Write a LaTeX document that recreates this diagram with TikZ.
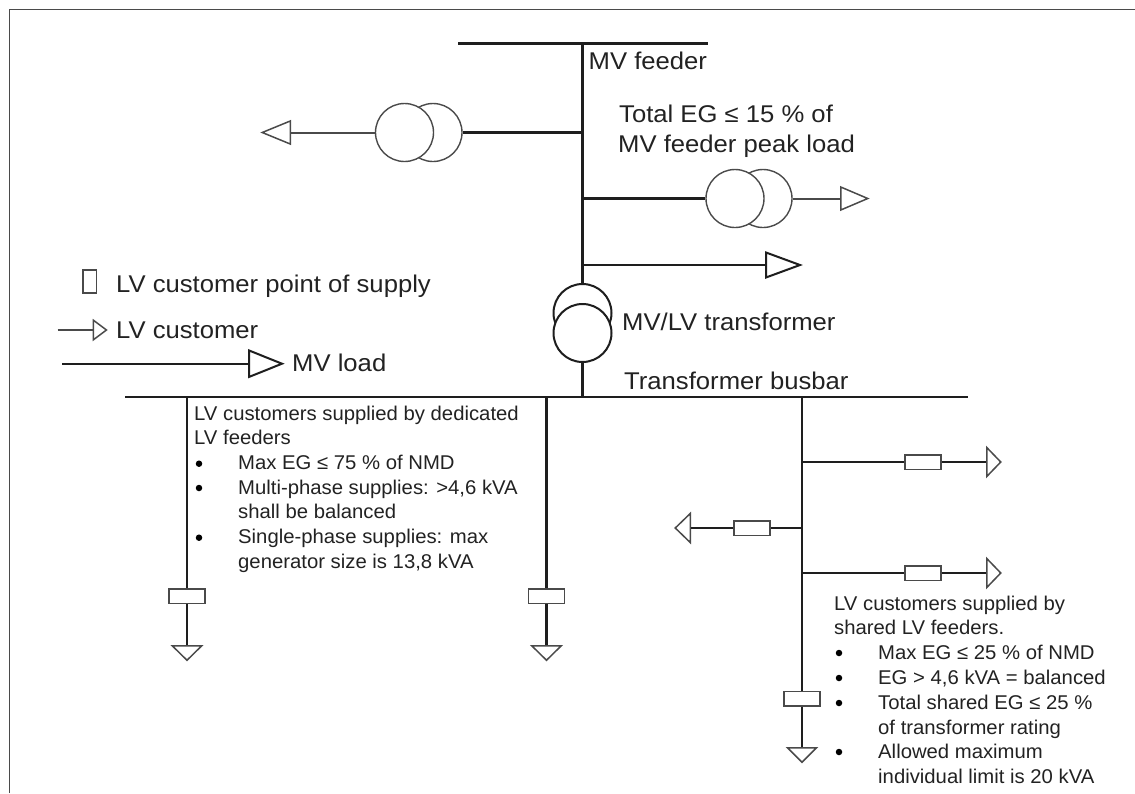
\documentclass[tikz,border=0pt]{standalone}
\usepackage{fontspec}
\setmainfont{Liberation Sans}
\newfontfamily\lgfam[FakeStretch=1.06]{Liberation Sans}
\newfontfamily\smfam[FakeStretch=1.02]{Liberation Sans}
\usetikzlibrary{shapes.geometric}
\definecolor{ink}{HTML}{1E1E1E}
\definecolor{soft}{HTML}{4A4A4A}
\definecolor{txt}{HTML}{222222}
\tikzset{
  lgtext/.style={anchor=base west,inner sep=0pt,text=txt,font=\lgfam\fontsize{24.2}{28}\selectfont},
  smtext/.style={anchor=base west,inner sep=0pt,text=txt,font=\smfam\fontsize{19.9}{24}\selectfont},
  bul/.style={circle,fill=black,inner sep=0pt,minimum size=6.5pt},
  wire/.style={draw=ink,line width=2.2pt},
  softwire/.style={draw=soft,line width=2pt},
  coil/.style={circle,draw=soft,line width=1.4pt,fill=white,inner sep=0pt,minimum size=58pt},
  mcoil/.style={circle,draw=ink,line width=2pt,fill=white,inner sep=0pt,minimum size=58pt},
  fuse/.style={rectangle,draw=soft,line width=1.5pt,fill=white,inner sep=0pt},
  hfuse/.style={fuse,minimum width=36pt,minimum height=14.5pt},
  tip/.style={isosceles triangle,isosceles triangle stretches,draw=soft,line width=1.5pt,fill=white,inner sep=0pt,anchor=lower side},
  tipbig/.style={tip,draw=ink,line width=2pt},
}
\begin{document}
\begin{tikzpicture}[x=1pt,y=-1pt]
\useasboundingbox (0,0) rectangle (1135,793);
% frame
\coordinate (fa) at (9.5,793); \coordinate (fb) at (9.5,9.5); \coordinate (fc) at (1135,9.5);
\draw[draw=soft,line width=1.1pt] (fa) -- (fb) -- (fc);
% buses
\coordinate (mvL) at (458,43); \coordinate (mvR) at (708,43); \coordinate (mvJ) at (582.5,43);
\draw[draw=ink,line width=3pt] (mvL) -- (mvR);
\coordinate (bbL) at (125,397); \coordinate (bbR) at (968,397);
\coordinate (bbM) at (582.5,397); \coordinate (bbA) at (187,397); \coordinate (bbB) at (546.5,397); \coordinate (bbC) at (802,397);
\draw[wire] (bbL) -- (bbR);
% MV junctions
\coordinate (j1) at (582.5,132.5); \coordinate (j2) at (582.5,198.5); \coordinate (j3) at (582.5,265);
% left transformer
\node[coil] (t1b) at (433,132.5) {};
\node[coil] (t1a) at (404.5,132.5) {};
\node[tip,minimum height=28pt,minimum width=23pt,shape border rotate=180] (a1) at (291,132.5) {};
\draw[wire] (j1) -- (t1b.east);
\draw[softwire] (t1a.west) -- (a1.lower side);
% right transformer
\node[coil] (t2b) at (763,198.5) {};
\node[coil] (t2a) at (735,198.5) {};
\node[tip,minimum height=27pt,minimum width=23pt] (a2) at (840,198.5) {};
\draw[wire] (j2) -- (t2a.west);
\draw[softwire] (t2b.east) -- (a2.lower side);
% MV load
\node[tipbig,minimum height=34pt,minimum width=25pt] (a3) at (765,265) {};
\draw[wire] (j3) -- (a3.lower side);
% MV/LV transformer
\node[mcoil] (t3a) at (582.5,313) {};
\node[mcoil] (t3b) at (582.5,333) {};
\draw[wire] (mvJ) -- (t3a.north);
\draw[wire] (t3b.south) -- (bbM);
% legend
\node[rectangle,draw=soft,line width=1.3pt,inner sep=0pt,minimum width=13.5pt,minimum height=23pt] (lgbox) at (89.7,281.5) {};
\coordinate (lg1) at (57.5,330);
\node[tip,minimum height=13pt,minimum width=19.5pt] (lga1) at (92.7,330) {};
\draw[softwire,line width=1.6pt] (lg1) -- (lga1.lower side);
\coordinate (lg2) at (62,363.7);
\node[tipbig,minimum height=33pt,minimum width=26.5pt] (lga2) at (248,363.7) {};
\draw[wire] (lg2) -- (lga2.lower side);
% left LV feeders
\node[hfuse] (fa1) at (187,596) {};
\node[tip,minimum height=14.5pt,minimum width=29.5pt,shape border rotate=-90] (ta1) at (187,645) {};
\draw[wire] (bbA) -- (fa1.north);
\draw[wire] (fa1.south) -- (ta1.lower side);
\node[hfuse] (fb1) at (546.5,596) {};
\node[tip,minimum height=14.5pt,minimum width=29.5pt,shape border rotate=-90] (tb1) at (546.5,645) {};
\draw[wire] (bbB) -- (fb1.north);
\draw[wire] (fb1.south) -- (tb1.lower side);
% right LV feeder
\coordinate (c1) at (802,462); \coordinate (c2) at (802,528); \coordinate (c3) at (802,573);
\node[hfuse] (fc0) at (802,698.5) {};
\node[tip,minimum height=14.5pt,minimum width=29pt,shape border rotate=-90] (tc0) at (802,747) {};
\draw[wire] (bbC) -- (fc0.north);
\draw[wire] (fc0.south) -- (tc0.lower side);
\node[hfuse] (fc1) at (923,462) {};
\node[tip,minimum height=14pt,minimum width=29pt] (tc1) at (986,462) {};
\draw[wire] (c1) -- (fc1.west);
\draw[wire] (fc1.east) -- (tc1.lower side);
\node[hfuse] (fc2) at (752,528) {};
\node[tip,minimum height=15pt,minimum width=29pt,shape border rotate=180] (tc2) at (691,528) {};
\draw[wire] (c2) -- (fc2.east);
\draw[wire] (fc2.west) -- (tc2.lower side);
\node[hfuse] (fc3) at (923,573) {};
\node[tip,minimum height=14pt,minimum width=29pt] (tc3) at (986,573) {};
\draw[wire] (c3) -- (fc3.west);
\draw[wire] (fc3.east) -- (tc3.lower side);
% large labels
\node[lgtext] (l1) at (588.5,69) {MV feeder};
\node[lgtext] (l2) at (619,122) {Total EG ≤ 15 \% of};
\node[lgtext] (l3) at (618,152.7) {MV feeder peak load};
\node[lgtext] (l4) at (622,330.7) {MV/LV transformer};
\node[lgtext] (l5) at (624,389) {Transformer busbar};
\node[lgtext] (l6) at (116,292.7) {LV customer point of supply};
\node[lgtext] (l7) at (116,338) {LV customer};
\node[lgtext] (l8) at (292,371) {MV load};
% left note
\node[smtext] (n1) at (194,420) {LV customers supplied by dedicated};
\node[smtext] (n2) at (194,444.5) {LV feeders};
\node[bul] (b1) at (199,463.7) {};
\node[smtext] (n3) at (238,469.5) {Max EG ≤ 75 \% of NMD};
\node[bul] (b2) at (199,488) {};
\node[smtext] (n4) at (238,494) {Multi-phase supplies: >4,6 kVA};
\node[smtext] (n5) at (238,518.7) {shall be balanced};
\node[bul] (b3) at (199,537.7) {};
\node[smtext] (n6) at (238,543.5) {Single-phase supplies: max};
\node[smtext] (n7) at (238,568) {generator size is 13,8 kVA};
% right note
\node[smtext] (m1) at (834,610) {LV customers supplied by};
\node[smtext] (m2) at (834,634.7) {shared LV feeders.};
\node[bul] (d1) at (839,653) {};
\node[smtext] (m3) at (878,659) {Max EG ≤ 25 \% of NMD};
\node[bul] (d2) at (839,678) {};
\node[smtext] (m4) at (878,684) {EG > 4,6 kVA = balanced};
\node[bul] (d3) at (839,703) {};
\node[smtext] (m5) at (878,709) {Total shared EG ≤ 25 \%};
\node[smtext] (m6) at (878,734) {of transformer rating};
\node[bul] (d4) at (839,752) {};
\node[smtext] (m7) at (878,758) {Allowed maximum};
\node[smtext] (m8) at (878,783) {individual limit is 20 kVA};
\end{tikzpicture}
\end{document}
